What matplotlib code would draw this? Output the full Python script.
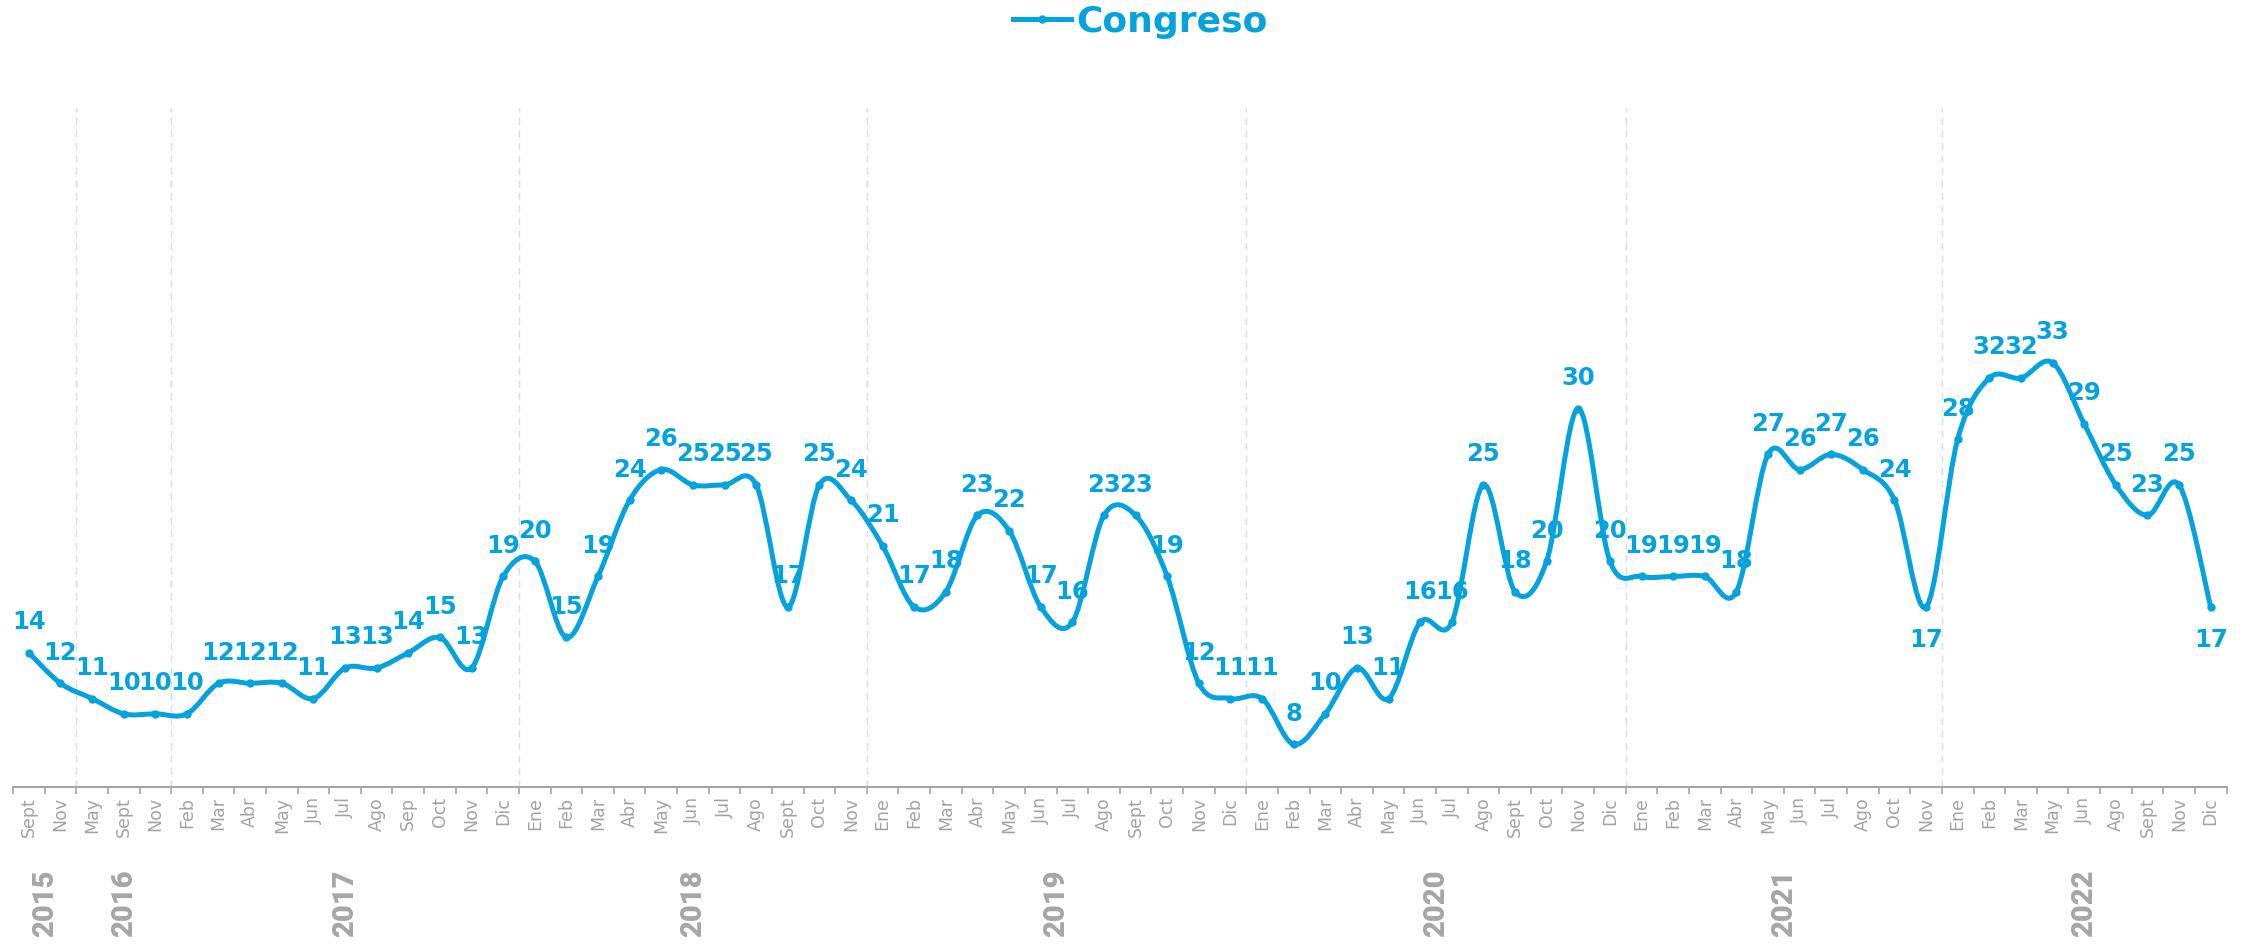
import numpy as np
import matplotlib.pyplot as plt
from matplotlib.path import Path
from matplotlib.patches import PathPatch
from matplotlib.lines import Line2D
from matplotlib.transforms import blended_transform_factory

# datos
years = ["2015", "2016", "2017", "2018", "2019", "2020", "2021", "2022"]
year_counts = [2, 3, 11, 11, 12, 12, 10, 9]
months = ["Sept", "Nov",
          "May", "Sept", "Nov",
          "Feb", "Mar", "Abr", "May", "Jun", "Jul", "Ago", "Sep", "Oct", "Nov", "Dic",
          "Ene", "Feb", "Mar", "Abr", "May", "Jun", "Jul", "Ago", "Sept", "Oct", "Nov",
          "Ene", "Feb", "Mar", "Abr", "May", "Jun", "Jul", "Ago", "Sept", "Oct", "Nov", "Dic",
          "Ene", "Feb", "Mar", "Abr", "May", "Jun", "Jul", "Ago", "Sept", "Oct", "Nov", "Dic",
          "Ene", "Feb", "Mar", "Abr", "May", "Jun", "Jul", "Ago", "Oct", "Nov",
          "Ene", "Feb", "Mar", "May", "Jun", "Ago", "Sept", "Nov", "Dic"]
congreso = [14, 12,
            11, 10, 10,
            10, 12, 12, 12, 11, 13, 13, 14, 15, 13, 19,
            20, 15, 19, 24, 26, 25, 25, 25, 17, 25, 24,
            21, 17, 18, 23, 22, 17, 16, 23, 23, 19, 12, 11,
            11, 8, 10, 13, 11, 16, 16, 25, 18, 20, 30, 20,
            19, 19, 19, 18, 27, 26, 27, 26, 24, 17,
            28, 32, 32, 33, 29, 25, 23, 25, 17]

color = "#05A3DE"
labels_below = {60, 69}

x = np.arange(len(congreso))
y = np.array(congreso, dtype=float)

fig = plt.figure(figsize=(22.49, 9.46), dpi=100)
ax = fig.add_axes([0.0058, 0.168, 0.9842, 0.718])

# linea suavizada (bezier tipo catmull-rom)
pts = np.column_stack([x, y])
verts = [pts[0]]
codes = [Path.MOVETO]
n = len(pts)
for i in range(n - 1):
    p0 = pts[max(i - 1, 0)]
    p1 = pts[i]
    p2 = pts[i + 1]
    p3 = pts[min(i + 2, n - 1)]
    c1 = p1 + (p2 - p0) / 6
    c2 = p2 - (p3 - p1) / 6
    verts += [c1, c2, p2]
    codes += [Path.CURVE4] * 3
ax.add_patch(PathPatch(Path(verts, codes), facecolor="none", edgecolor=color,
                       lw=3.6, capstyle="round", joinstyle="round", zorder=3))
ax.plot(x, y, "o", color=color, ms=5, zorder=4)

for i, v in enumerate(congreso):
    off = -24 if i in labels_below else 22
    ax.annotate(str(v), (i, v), xytext=(0, off), textcoords="offset points",
                ha="center", va="center", color=color, fontsize=17.5,
                fontweight="bold", family="DejaVu Sans", zorder=5)

# separadores de año
bounds = np.cumsum(year_counts)[:-1] - 0.5
for b in bounds:
    ax.axvline(b, color="#DDDDDD", lw=1, ls=(0, (5, 4)), zorder=1)

ax.set_xlim(-0.5, len(congreso) - 0.5)
ax.set_ylim(5.2, 49.7)
ax.set_yticks([])
for s in ["left", "right", "top"]:
    ax.spines[s].set_visible(False)
ax.spines["bottom"].set_color("#A6A6A6")
ax.spines["bottom"].set_linewidth(1.5)

ax.set_xticks(x)
ax.set_xticklabels(months, rotation=90, fontsize=12.5, color="#A3A3A3")
ax.tick_params(axis="x", which="major", length=0, pad=7)
ax.set_xticks(np.arange(-0.5, len(congreso), 1), minor=True)
ax.tick_params(axis="x", which="minor", length=5, color="#A6A6A6", width=1.2)

trans = blended_transform_factory(ax.transData, ax.transAxes)
start = 0
for yr, c in zip(years, year_counts):
    ax.text(start + (c - 1) / 2, -0.171, yr, transform=trans, rotation=90,
            ha="center", va="center", fontsize=21, fontweight=900,
            family="Roboto", color="#A6A6A6")
    start += c

handle = Line2D([], [], color=color, lw=3.6, marker="o", ms=5)
fig.legend([handle], ["Congreso"], loc="center", bbox_to_anchor=(0.507, 0.977),
           frameon=False, handlelength=1.6, handletextpad=0.15,
           prop={"family": "DejaVu Sans", "weight": "bold", "size": 26},
           labelcolor=color)

fig.savefig("out.png", dpi=100)
